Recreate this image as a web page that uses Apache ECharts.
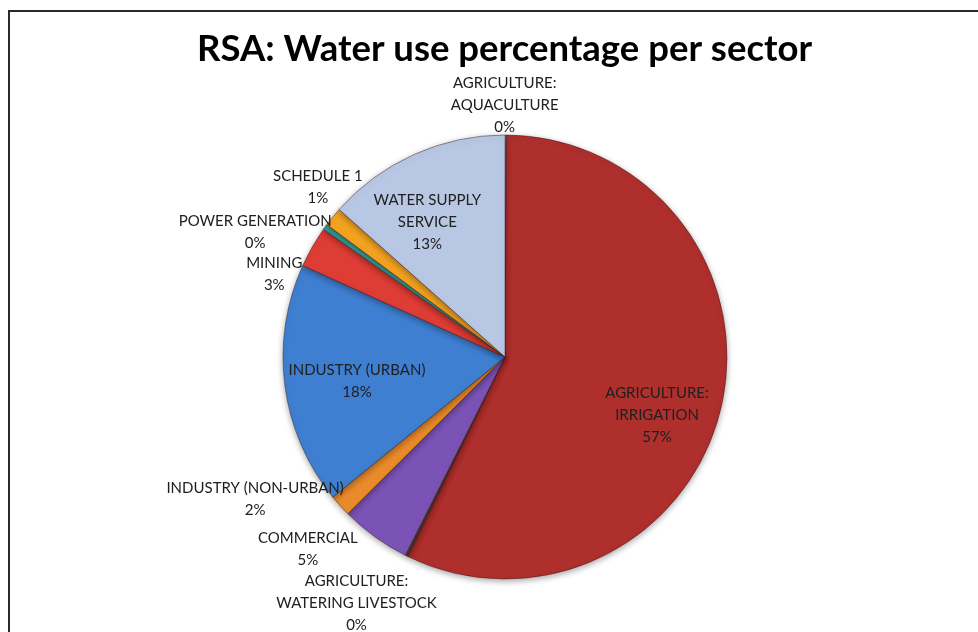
<!DOCTYPE html>
<html>
<head>
<meta charset="utf-8">
<script src="https://cdn.jsdelivr.net/npm/echarts@6/dist/echarts.min.js"></script>
<style>
  html, body { margin: 0; padding: 0; background: #ffffff; }
  #chart { width: 978px; height: 632px; }
</style>
</head>
<body>
<div id="chart"></div>
<script>
// ---- data ----
var categories = [
  'AGRICULTURE:\nAQUACULTURE',
  'AGRICULTURE:\nIRRIGATION',
  'AGRICULTURE:\nWATERING LIVESTOCK',
  'COMMERCIAL',
  'INDUSTRY (NON-URBAN)',
  'INDUSTRY (URBAN)',
  'MINING',
  'POWER GENERATION',
  'SCHEDULE 1',
  'WATER SUPPLY\nSERVICE'
];
var shares = [0.1, 57.0, 0.2, 5.1, 1.6, 17.6, 3.0, 0.4, 1.4, 13.4];

// ---- styles ----
var sliceColors = ['#8FB0DA', '#AF2F2D', '#5B3C2A', '#7B53B6', '#E98A2B',
                   '#3F7FD1', '#DE3D36', '#33A59C', '#F3A220', '#B8C8E4'];
var insideLabels = { 1: true, 5: true, 9: true };
// label nudges (px) relative to the library's own label anchor
var labelNudge = {
  0: [-6, -30], 1: [41, 32], 2: [-45, 47], 3: [-62, 12], 4: [-80, -6],
  5: [-35, 9], 6: [-33, 27], 7: [-65, 5], 8: [-10, -30], 9: [-31, -31]
};

var pieData = categories.map(function (name, i) {
  return {
    name: name,
    value: shares[i],
    itemStyle: { color: sliceColors[i] },
    label: { position: insideLabels[i] ? 'inside' : 'outside' }
  };
});

var chart = echarts.init(document.getElementById('chart'), null, { renderer: 'canvas' });
chart.setOption({
  backgroundColor: '#ffffff',
  animation: false,
  title: {
    text: 'RSA: Water use percentage per sector',
    left: 192,
    top: 26,
    textStyle: {
      fontFamily: 'Lato',
      fontWeight: 'bold',
      fontSize: 36.5,
      color: '#000000'
    }
  },
  graphic: [{
    type: 'rect',
    silent: true,
    shape: { x: 9, y: 11, width: 1000, height: 700 },
    style: { fill: 'none', stroke: '#2a2a2a', lineWidth: 2 }
  }],
  series: [{
    type: 'pie',
    center: [505, 357],
    radius: 222,
    startAngle: 90,
    clockwise: true,
    avoidLabelOverlap: false,
    minShowLabelAngle: 0,
    data: pieData,
    itemStyle: {
      borderColor: 'rgba(60,20,20,0.45)',
      borderWidth: 1,
      shadowBlur: 6,
      shadowColor: 'rgba(0,0,0,0.35)',
      shadowOffsetY: 2
    },
    label: {
      show: true,
      formatter: function (p) { return p.name + '\n' + Math.round(p.percent) + '%'; },
      fontFamily: 'Lato',
      fontSize: 15,
      lineHeight: 22,
      color: '#202020',
      distanceToLabelLine: 5
    },
    labelLine: { show: false, length: 0, length2: 0 },
    labelLayout: function (params) {
      var n = labelNudge[params.dataIndex] || [0, 0];
      return { align: 'center', dx: n[0], dy: n[1] };
    },
    emphasis: { disabled: true }
  }]
});
</script>
</body>
</html>
